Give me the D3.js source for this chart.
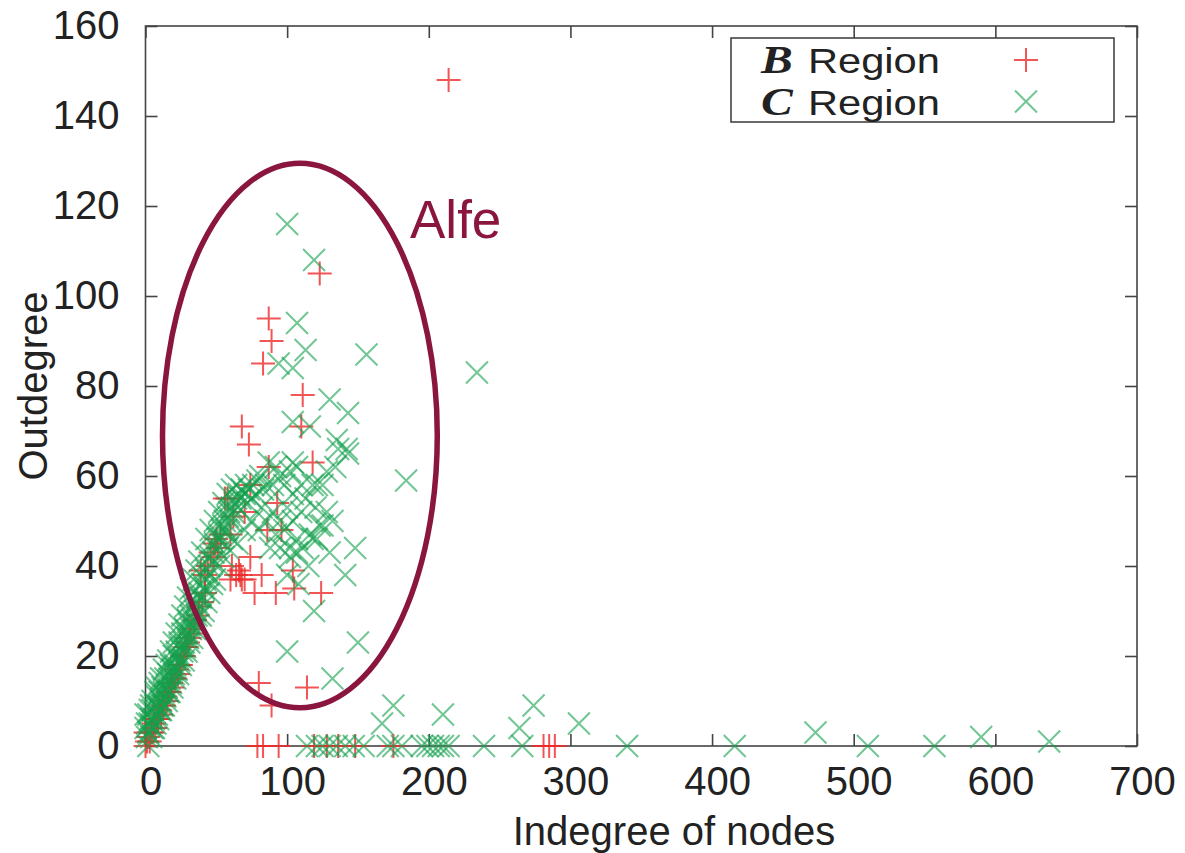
<!DOCTYPE html>
<html>
<head>
<meta charset="utf-8">
<script src="https://cdn.jsdelivr.net/npm/d3@7"></script>
<style>
  html, body { margin: 0; padding: 0; background: #ffffff; }
  svg { display: block; }
  text { font-family: "Liberation Sans", Arial, Helvetica, sans-serif; fill: #222; }
</style>
</head>
<body>
<svg id="chart" width="1185" height="853"></svg>
<script>
// Indegree / outdegree of nodes, grouped by region.
const xTicks = [0, 100, 200, 300, 400, 500, 600, 700];
const yTicks = [0, 20, 40, 60, 80, 100, 120, 140, 160];

// B region: [indegree, outdegree]
const bRegion = [
  [0,0],[0,3],[1,1],[2,2],[3,1],[4,3],[5,3],[6,5],[7,4],[8,6],[9,6],[10,8],[11,7],[12,9],
  [13,9],[14,11],[15,10],[16,12],[17,12],[18,14],[19,13],[20,15],[21,15],[22,17],[23,16],
  [24,18],[25,18],[26,20],[27,20],[28,22],[29,22],[30,23],[31,24],[32,25],[34,26],[35,28],
  [37,29],[38,31],[40,32],[42,34],[39,39],[42,38],[44,40],[46,43],[48,42],[49,45],[51,44],
  [53,47],[50,46],[56,55],[58,55],[60,47],[62,51],[70,52],[74,58],[87,62],[118,63],[93,54],
  [86,48],[96,48],[74,42],[61,40],[64,38],[67,38],[68,37],[70,37],[60,37],[66,39],[82,38],
  [104,39],[77,34],[92,34],[105,35],[124,34],[80,14],[114,13],[89,9],
  [214,148],[123,105],[87,95],[89,90],[83,85],[111,78],[68,71],[73,67],[110,71],
  [79,0],[83,0],[94,0],[119,0],[128,0],[136,0],[148,0],[175,0],[281,0],[285,0],[289,0]
];

// C region: [indegree, outdegree]
const cRegion = [
  [0,7],[0,4],[1,2],[2,0],[2,3],[3,5],[4,2],[4,6],[5,4],[5,8],[6,6],[7,9],[7,5],[8,7],
  [8,11],[9,9],[10,12],[10,8],[11,10],[12,13],[12,9],[13,12],[14,15],[14,11],[15,13],
  [16,16],[16,12],[17,15],[18,18],[18,14],[19,17],[20,20],[20,16],[21,18],[22,21],[22,17],
  [23,20],[24,23],[24,19],[25,22],[26,25],[26,21],[27,23],[28,26],[28,22],[29,25],[30,28],
  [30,24],[31,27],[32,29],[32,26],[33,28],[34,31],[35,30],[36,32],[36,29],[37,33],[38,34],
  [39,33],[40,36],[41,35],[42,37],[43,39],[44,38],[45,40],[46,42],[47,41],[48,43],[49,45],
  [50,44],[51,46],[52,47],[53,46],[54,48],[55,49],[56,50],[57,48],[58,51],[59,52],[60,50],
  [61,53],[62,52],[63,54],[64,55],[65,53],[66,56],[67,55],[68,57],[70,56],[71,58],[72,54],
  [73,57],[75,55],[76,58],[78,56],[79,59],[81,60],[83,57],[85,58],[87,63],[90,58],[92,62],
  [95,60],[98,58],[102,61],[104,63],[107,62],[118,58],[121,58],[125,58],[128,61],[134,62],
  [136,66],[143,65],
  // upper edge of the main band
  [1,5],[2,7],[3,8],[4,9],[5,10],[7,12],[8,13],[10,14],[11,15],[13,17],[15,18],[16,19],
  [18,21],[20,23],[22,25],[24,27],[26,29],[28,31],[30,33],[32,35],[34,37],[36,39],[38,41],
  [40,43],[43,46],[46,48],[49,50],[52,52],[55,54],[58,56],[61,57],[64,58],
  // lower edge of the main band
  [6,4],[9,6],[11,8],[13,9],[15,10],[17,12],[19,13],[21,15],[23,16],[25,18],[27,19],
  [29,21],[31,23],[33,24],[35,26],[37,27],[39,29],[41,30],[43,32],[45,34],[47,36],[49,37],
  [52,40],[55,42],[58,44],[61,46],
  [88,44],[95,44],[102,44],[107,46],[116,47],[118,46],[123,49],[128,52],[132,50],[111,44],
  [107,43],[102,42],[85,50],[90,52],[95,50],[100,53],[104,50],[110,52],[113,55],[92,47],
  [98,48],[80,48],[75,50],[82,53],[70,48],[65,45],[104,56],[110,58],[120,53],[125,49],
  [115,40],[108,36],[100,38],[130,43],[121,46],
  [100,116],[119,108],[107,94],[113,88],[94,85],[104,84],[156,87],[234,83],[130,77],
  [143,74],[104,72],[116,71],[135,68],[142,66],[184,59],[148,44],[141,38],[119,30],
  [150,23],[100,21],[132,15],
  [167,5],[175,9],[210,7],[264,4],[274,9],[306,5],[473,3],[590,2],[638,1],
  [114,0],[121,0],[125,0],[130,0],[135,0],[141,0],[147,0],[154,0],[171,0],[175,0],
  [181,0],[195,0],[199,0],[203,0],[207,0],[210,0],[214,0],[239,0],[266,0],[340,0],
  [416,0],[510,0],[557,0]
];

// Highlighted cluster, in data units: centre and radii
const clusterCentre = [109, 69];
const clusterRadii = [97, 60.5];
const clusterLabel = "Alfe";

const legendEntries = [
  { letter: "B", text: "Region", kind: "plus" },
  { letter: "C", text: "Region", kind: "cross" }
];

const svg = d3.select("#chart");
const plotLeft = 145.5, plotRight = 1137, plotTop = 26, plotBottom = 746;

const x = d3.scaleLinear().domain([0, 700]).range([plotLeft, plotRight]);
const y = d3.scaleLinear().domain([0, 160]).range([plotBottom, plotTop]);

const axisColor = "#444";
const red = "#ee2a2a";
const green = "#12a04c";
const maroon = "#8a1640";

const plusPath = "M-12,0H12M0,-12V12";
const crossPath = "M-11,-11L11,11M-11,11L11,-11";

// Frame
svg.append("rect")
  .attr("x", plotLeft).attr("y", plotTop)
  .attr("width", plotRight - plotLeft).attr("height", plotBottom - plotTop)
  .attr("fill", "none").attr("stroke", axisColor).attr("stroke-width", 1.6);

// Axes with inward ticks, mirrored on top and right
const fontSize = 40;
const xAxisB = d3.axisBottom(x).tickValues(xTicks).tickSize(-12).tickPadding(20);
const yAxisL = d3.axisLeft(y).tickValues(yTicks).tickSize(-12).tickPadding(26);
const xAxisT = d3.axisTop(x).tickValues(xTicks).tickSize(-12).tickFormat("");
const yAxisR = d3.axisRight(y).tickValues(yTicks).tickSize(-12).tickFormat("");

function styleAxis(g) {
  g.select(".domain").remove();
  g.selectAll(".tick line").attr("stroke", axisColor).attr("stroke-width", 1.6);
  g.selectAll(".tick text")
    .attr("fill", "#222")
    .style("font-family", '"Liberation Sans", Arial, sans-serif')
    .style("font-size", fontSize + "px");
}

svg.append("g").attr("transform", `translate(0,${plotBottom})`).call(xAxisB).call(styleAxis)
  .selectAll(".tick text").attr("dx", 5).attr("dy", "0.72em");
svg.append("g").attr("transform", `translate(${plotLeft},0)`).call(yAxisL).call(styleAxis);
svg.append("g").attr("transform", `translate(0,${plotTop})`).call(xAxisT).call(styleAxis);
svg.append("g").attr("transform", `translate(${plotRight},0)`).call(yAxisR).call(styleAxis);

// Axis titles
svg.append("text")
  .attr("x", 674).attr("y", 845)
  .attr("text-anchor", "middle")
  .style("font-size", fontSize + "px")
  .text("Indegree of nodes");

svg.append("text")
  .attr("transform", `translate(47,${(plotTop + plotBottom) / 2}) rotate(-90)`)
  .attr("text-anchor", "middle")
  .style("font-size", fontSize + "px")
  .text("Outdegree");

// Points
const marks = svg.append("g");
marks.selectAll("path.b")
  .data(bRegion)
  .join("path")
  .attr("class", "b")
  .attr("transform", d => `translate(${x(d[0])},${y(d[1])})`)
  .attr("d", plusPath)
  .attr("fill", "none")
  .attr("stroke", red)
  .attr("stroke-opacity", 0.8)
  .attr("stroke-width", 2);

marks.selectAll("path.c")
  .data(cRegion)
  .join("path")
  .attr("class", "c")
  .attr("transform", d => `translate(${x(d[0])},${y(d[1])})`)
  .attr("d", crossPath)
  .attr("fill", "none")
  .attr("stroke", green)
  .attr("stroke-opacity", 0.6)
  .attr("stroke-width", 2);

// Highlight ellipse and its label
svg.append("ellipse")
  .attr("cx", x(clusterCentre[0]))
  .attr("cy", y(clusterCentre[1]))
  .attr("rx", x(clusterCentre[0] + clusterRadii[0]) - x(clusterCentre[0]))
  .attr("ry", y(clusterCentre[1] - clusterRadii[1]) - y(clusterCentre[1]))
  .attr("fill", "none")
  .attr("stroke", maroon)
  .attr("stroke-width", 5.5);

svg.append("text")
  .attr("x", 410).attr("y", 238)
  .style("font-size", "53px")
  .style("fill", maroon)
  .text(clusterLabel);

// Legend
const legend = svg.append("g");
legend.append("rect")
  .attr("x", 731).attr("y", 38).attr("width", 383).attr("height", 84)
  .attr("fill", "#fff").attr("stroke", axisColor).attr("stroke-width", 1.6);

legendEntries.forEach((e, i) => {
  const baseY = 73 + i * 41.5;
  legend.append("text")
    .attr("transform", `translate(761,${baseY}) scale(1.19,1)`)
    .style("font-family", '"Liberation Serif", "Times New Roman", serif')
    .style("font-weight", "bold")
    .style("font-style", "italic")
    .style("font-size", "40px")
    .text(e.letter);
  legend.append("text")
    .attr("transform", `translate(808,${baseY}) scale(1.19,1)`)
    .style("font-size", "35px")
    .text(e.text);
  legend.append("path")
    .attr("transform", `translate(1026,${baseY - 13})`)
    .attr("d", e.kind === "plus" ? plusPath : crossPath)
    .attr("fill", "none")
    .attr("stroke", e.kind === "plus" ? red : green)
    .attr("stroke-opacity", e.kind === "plus" ? 0.8 : 0.6)
    .attr("stroke-width", 2);
});
</script>
</body>
</html>
